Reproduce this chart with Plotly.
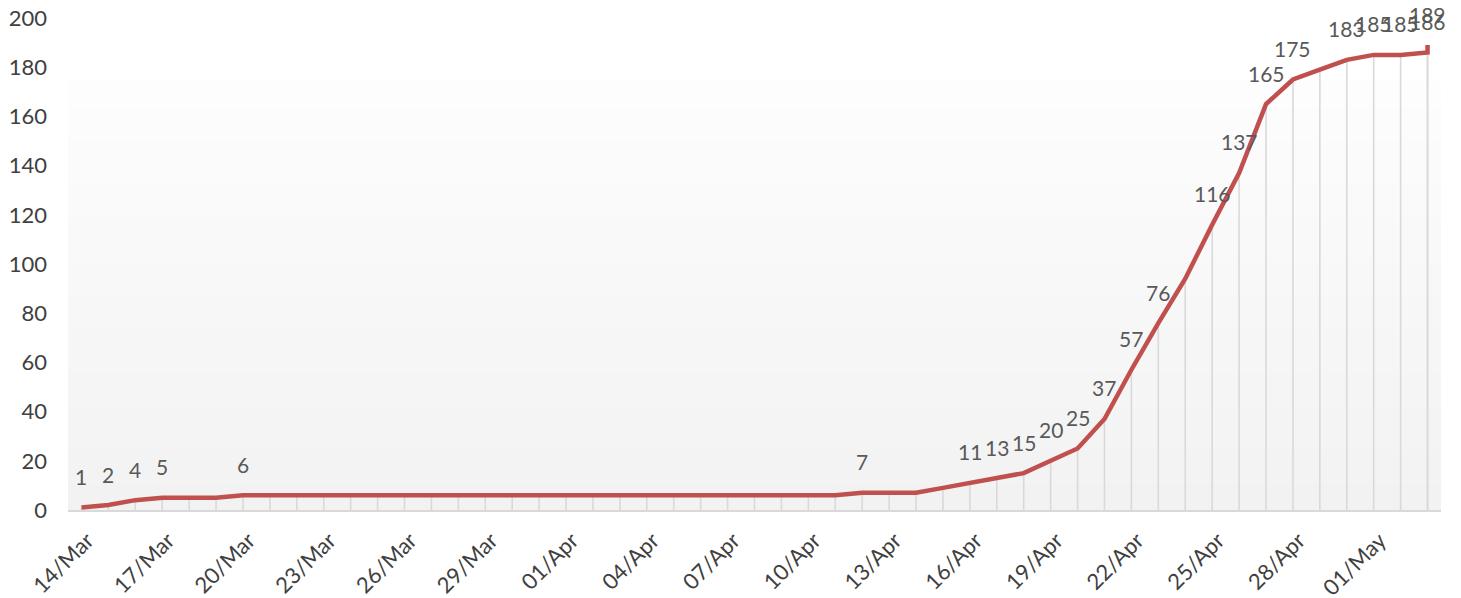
import pandas as pd
import plotly.graph_objects as go

# ---- data ----
dates = list(pd.date_range("2020-03-14", "2020-05-03", freq="D").strftime("%Y-%m-%d")) + ["2020-05-03"]
values = [1, 2, 4, 5, 5, 5, 6,
          6, 6, 6, 6, 6, 6, 6, 6, 6, 6, 6, 6, 6, 6, 6, 6, 6, 6, 6, 6, 6,
          6, 7, 7, 7, 9, 11, 13, 15, 20, 25, 37, 57, 76, 94, 116, 137,
          165, 175, 179, 183, 185, 185, 186, 189]
labels = ["1", "2", "4", "5", "", "", "6",
          "", "", "", "", "", "", "", "", "", "", "", "", "", "", "", "", "", "", "", "", "",
          "", "7", "", "", "", "11", "13", "15", "20", "25", "37", "57", "76", "", "116", "137",
          "165", "175", "", "183", "185", "185", "186", "189"]
tick_vals = dates[0:49:3]
tick_labels = ["14/Mar", "17/Mar", "20/Mar", "23/Mar", "26/Mar", "29/Mar", "01/Apr",
               "04/Apr", "07/Apr", "10/Apr", "13/Apr", "16/Apr", "19/Apr", "22/Apr",
               "25/Apr", "28/Apr", "01/May"]

FONT = "Lato"
fig = go.Figure()

# drop lines
dx, dy = [], []
for d, v in zip(dates, values):
    dx += [d, d, None]
    dy += [0, v, None]
fig.add_trace(go.Scatter(x=dx, y=dy, mode="lines",
                         line=dict(color="#d9d9d9", width=1.6),
                         hoverinfo="skip", showlegend=False))

fig.add_trace(go.Scatter(x=dates, y=values, mode="lines",
                         line=dict(color="#c0504d", width=4.5),
                         showlegend=False))

for d, v, t in zip(dates, values, labels):
    if t:
        fig.add_annotation(x=d, y=v, text=t, showarrow=False, yshift=31,
                           font=dict(family=FONT, size=21, color="#595959"))

# gradient background in plot area
N = 50
top = 0.871
shapes = []
for i in range(N):
    f = i / (N - 1)
    c = round(242 + (253 - 242) * f)
    shapes.append(dict(type="rect", xref="paper", yref="paper",
                       x0=0, x1=1, y0=top * i / N, y1=top * (i + 1) / N + 0.002,
                       fillcolor=f"rgb({c},{c},{c})", line=dict(width=0),
                       layer="below"))

fig.update_layout(
    width=1453, height=590,
    margin=dict(l=60, r=20, t=10, b=88),
    paper_bgcolor="white", plot_bgcolor="white",
    shapes=shapes,
    font=dict(family=FONT, size=22, color="#404040"),
    xaxis=dict(type="date", range=["2020-03-13 12:00", "2020-05-03 12:00"],
               tickvals=tick_vals, ticktext=tick_labels, tickangle=-45,
               showgrid=False, zeroline=False, showline=True,
               linecolor="#d9d9d9", linewidth=2, ticks="",
               ticklabelstandoff=7, ticklabelshift=6,
               automargin=False, ticklabeloverflow="allow",
               tickfont=dict(family=FONT, size=22, color="#404040")),
    yaxis=dict(range=[0, 200], dtick=20, showgrid=False, zeroline=False,
               showline=False, ticks="", ticklabelstandoff=20, automargin=False,
               ticklabeloverflow="allow",
               tickfont=dict(family=FONT, size=22, color="#404040")),
)

fig.write_html("out.html")
